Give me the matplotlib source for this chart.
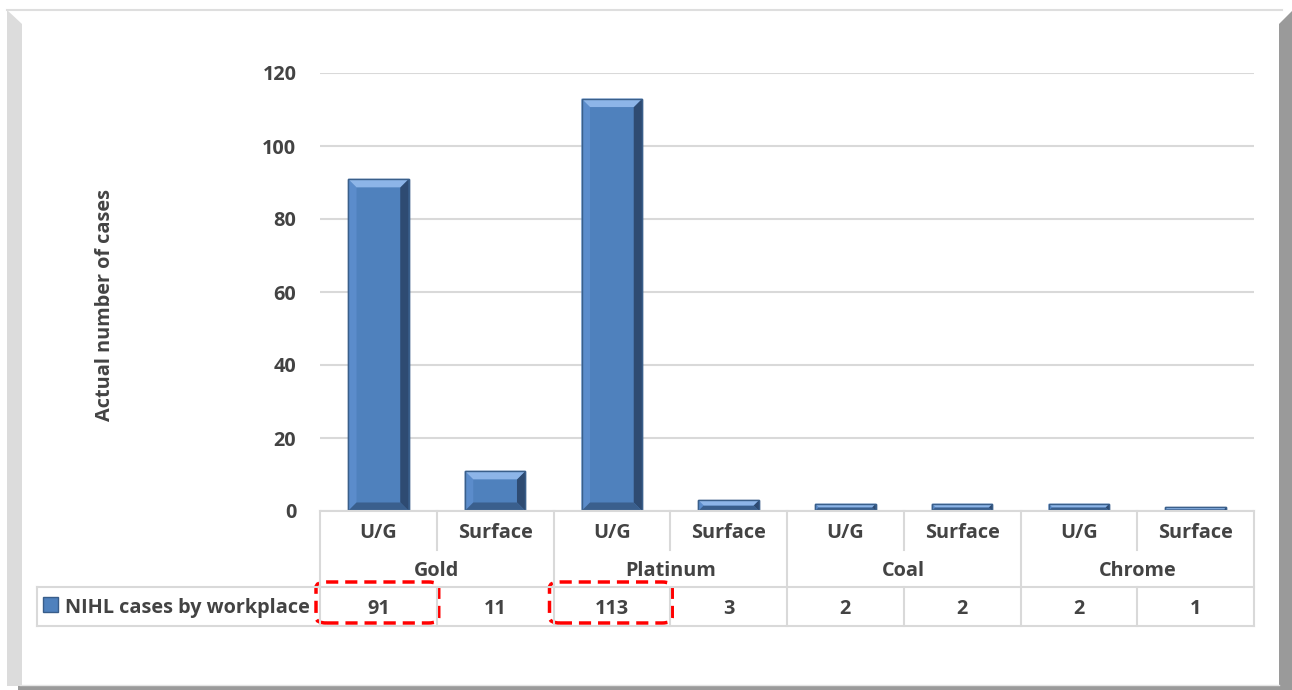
import numpy as np
import matplotlib
matplotlib.use("Agg")
import matplotlib.pyplot as plt
from matplotlib.lines import Line2D
from matplotlib.patches import Polygon, Rectangle, FancyBboxPatch

groups = ["Gold", "Platinum", "Coal", "Chrome"]
sites = ["U/G", "Surface", "U/G", "Surface", "U/G", "Surface", "U/G", "Surface"]
cases = [91, 11, 113, 3, 2, 2, 2, 1]
series_name = "NIHL cases by workplace"
boxed = [0, 2]
y_ticks = [0, 20, 40, 60, 80, 100, 120]

W, H = 1292, 690
TXT = "#434343"
GRID = "#d9d9d9"
FS = 14.3

plt.rcParams["font.family"] = ["Open Sans", "DejaVu Sans"]

fig = plt.figure(figsize=(W / 100, H / 100), dpi=100)
fig.patch.set_facecolor("white")


def fx(x):
    return x / W


def fy(y):
    return 1 - y / H


def hline(x0, x1, y, color=GRID, lw=1.5):
    fig.add_artist(Line2D([fx(x0), fx(x1)], [fy(y), fy(y)], color=color, lw=lw))


def vline(x, y0, y1, color=GRID, lw=1.5):
    fig.add_artist(Line2D([fx(x), fx(x)], [fy(y0), fy(y1)], color=color, lw=lw))


# frame with bevelled edges
fig.add_artist(Polygon([(fx(7), fy(10)), (fx(22), fy(24)), (fx(22), fy(686)), (fx(7), fy(686))],
                       closed=True, facecolor="#dcdcdc", edgecolor="none"))
fig.add_artist(Polygon([(fx(1279), fy(24)), (fx(1292), fy(11)), (fx(1292), fy(690)), (fx(1279), fy(690))],
                       closed=True, facecolor="#9a9a9a", edgecolor="none"))
fig.add_artist(Rectangle((fx(18), fy(690)), fx(1274), 4 / H, facecolor="#9a9a9a", edgecolor="none"))
hline(7, 1282, 9.5, color="#dedede", lw=1.5)
hline(20, 1279, 685, color="#e4e4e4", lw=1.0)

# plot area
x_left, x_right, y_top, y_base = 320, 1254, 73, 511
ax = fig.add_axes([fx(x_left), fy(y_base), fx(x_right) - fx(x_left), fy(y_top) - fy(y_base)])
n = len(cases)
xs = np.arange(n)
ax.set_xlim(-0.5, n - 0.5)
ax.set_ylim(0, 120)
ax.set_yticks(y_ticks)
ax.set_yticklabels([str(t) for t in y_ticks], fontsize=FS, fontweight="bold", color=TXT)
ax.tick_params(axis="y", length=0, pad=17)
ax.set_xticks([])
for s in ax.spines.values():
    s.set_visible(False)
ax.grid(axis="y", color=GRID, lw=1.5)
ax.set_axisbelow(True)

bar_w = 0.52
bars = ax.bar(xs, cases, width=bar_w, color="#4f81bd", edgecolor="#385d8a", lw=1.0, zorder=2)

# bevel on each bar
col_px = (x_right - x_left) / n
unit_px = (y_base - y_top) / 120
for b in bars:
    x0 = b.get_x()
    x1 = x0 + b.get_width()
    h = b.get_height()
    dx = 8.5 / col_px
    dy = min(8.5 / unit_px, h / 2)
    dxe = min(dx, dy * unit_px / col_px)
    top = [(x0, h), (x1, h), (x1 - dxe, h - dy), (x0 + dxe, h - dy)]
    bot = [(x0, 0), (x1, 0), (x1 - dxe, dy), (x0 + dxe, dy)]
    left = [(x0, 0), (x0, h), (x0 + dxe, h - dy), (x0 + dxe, dy)]
    right = [(x1, 0), (x1, h), (x1 - dxe, h - dy), (x1 - dxe, dy)]
    for poly, c in [(left, "#5b8ccb"), (right, "#2e4b72"), (bot, "#3a5f8d"), (top, "#8db5e8")]:
        ax.add_patch(Polygon(poly, closed=True, facecolor=c, edgecolor="none", zorder=3))
    ax.add_patch(Rectangle((x0, 0), x1 - x0, h, facecolor="none", edgecolor="#3a5f8a", lw=1.0, zorder=4))

# data table under the axis
col_edges = [x_left + i * col_px for i in range(n + 1)]
r0, r1, r2, r3 = 511, 549, 587, 626
hline(x_left, x_right, r0)
hline(37, x_right, r2)
hline(37, x_right, r3)
vline(37, r2, r3)
for i, xe in enumerate(col_edges):
    if i % 2 == 0:
        vline(xe, r0, r3)
    else:
        vline(xe, r0, r1 + 1)
        vline(xe, r2, r3)

for i in range(n):
    cx = (col_edges[i] + col_edges[i + 1]) / 2
    fig.text(fx(cx), fy((r0 + r1) / 2 + 3), sites[i], ha="center", va="center",
             fontsize=FS, fontweight="bold", color=TXT)
    fig.text(fx(cx), fy((r2 + r3) / 2 + 2.5), str(cases[i]), ha="center", va="center",
             fontsize=FS, fontweight="bold", color=TXT)
for g, name in enumerate(groups):
    cx = col_edges[2 * g + 1]
    fig.text(fx(cx), fy((r1 + r2) / 2 + 3), name, ha="center", va="center",
             fontsize=FS, fontweight="bold", color=TXT)

# legend key and series name
fig.add_artist(Rectangle((fx(43), fy(612)), fx(15), 15 / H, facecolor="#4f81bd",
                         edgecolor="#385d8a", lw=1.0))
fig.text(fx(65), fy(608.5), series_name, ha="left", va="center",
         fontsize=FS, fontweight="bold", color=TXT)

# highlight boxes on selected values
for i in boxed:
    bx0 = col_edges[i] - 4
    bx1 = col_edges[i + 1] + 2
    fig.add_artist(FancyBboxPatch((fx(bx0), fy(623)), fx(bx1 - bx0), 41 / H,
                                  boxstyle="round,pad=0,rounding_size=0.008",
                                  facecolor="none", edgecolor="#ff0000", lw=2.5,
                                  linestyle=(0, (3.5, 2))))

fig.text(fx(105), fy(305), "Actual number of cases", rotation=90, ha="center", va="center",
         fontsize=FS, fontweight="bold", color=TXT)

fig.savefig("out.png", dpi=100)
